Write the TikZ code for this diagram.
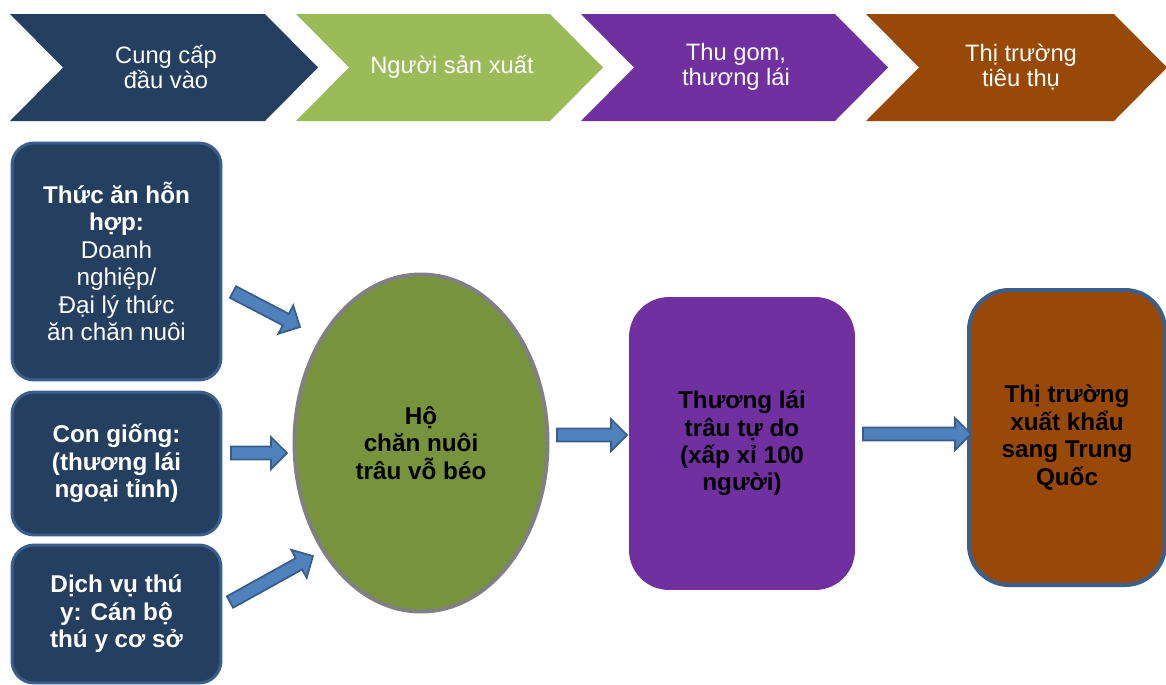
\documentclass[tikz,border=0pt]{standalone}
\usepackage{fontspec}
\setmainfont{Liberation Sans}
\usetikzlibrary{shapes.geometric,calc}
\definecolor{C0}{HTML}{243F60}
\definecolor{C1}{HTML}{9BBB59}
\definecolor{C2}{HTML}{7030A0}
\definecolor{C3}{HTML}{984807}
\definecolor{G0}{HTML}{77933C}
\definecolor{G1}{HTML}{808080}
\definecolor{B0}{HTML}{3B5F8C}
\definecolor{A0}{HTML}{4F81BD}
\definecolor{A1}{HTML}{385D8A}
\tikzset{
  head/.style={text=white, align=center, font=\fontsize{13.5}{14.5}\selectfont},
  inbox/.style={draw=B0, line width=1.7pt, fill=C0, rounded corners=0.44cm, minimum width=4.18cm, text=white, align=center, font=\fontsize{13.8}{15.6}\selectfont\bfseries},
  bigtext/.style={align=center, font=\fontsize{13.8}{15.6}\selectfont\bfseries},
  flow/.style={draw=A1, fill=A0, line width=1pt, line join=miter},
}
% block arrow between two named coordinates
\newcommand{\flowarrow}[2]{%
  \path[flow] let \p1=(#1), \p2=(#2), \n1={atan2(\y2-\y1,\x2-\x1)}, \n2={veclen(\x2-\x1,\y2-\y1)} in
    [shift={(\p1)}, rotate=\n1]
    (0pt,-3.7pt) -- ({\n2-9.1pt},-3.7pt) -- ({\n2-9.1pt},-9.1pt) -- ({\n2+0pt},0pt)
    -- ({\n2-9.1pt},9.1pt) -- ({\n2-9.1pt},3.7pt) -- (0pt,3.7pt) -- cycle;}

\begin{document}
\begin{tikzpicture}[x=0.02cm, y=-0.02cm]
\useasboundingbox (0,0) rectangle (1166,684);
% stage chevrons
\fill[C0] (10,14) -- (265,14) -- (318,67.5) -- (265,121) -- (10,121) -- (63,67.5) -- cycle;
\fill[C1] (296,14) -- (550,14) -- (603,67.5) -- (550,121) -- (296,121) -- (349,67.5) -- cycle;
\fill[C2] (581,14) -- (835,14) -- (888,67.5) -- (835,121) -- (581,121) -- (634,67.5) -- cycle;
\fill[C3] (866,14) -- (1114,14) -- (1167,67.5) -- (1114,121) -- (866,121) -- (919,67.5) -- cycle;
\node[head] (h1) at (166,67) {Cung cấp\\đầu vào};
\node[head] (h2) at (452,67) {Người sản xuất};
\node[head] (h3) at (736,67) {Thu gom,\\thương lái};
\node[head] (h4) at (1021,67) {Thị trường\\tiêu thụ};
% chain
\node[inbox, minimum height=4.74cm, font=\fontsize{13.8}{15.6}\selectfont] (feed) at (116.5,261.5) {\textbf{Thức ăn hỗn}\\\textbf{hợp:}\\Doanh\\nghiệp/\\Đại lý thức\\ăn chăn nuôi};
\node[inbox, minimum height=2.86cm] (breed) at (116.5,463.5) {Con giống:\\(thương lái\\ngoại tỉnh)};
\node[inbox, minimum height=2.76cm] (vet) at (116.5,614) {Dịch vụ thú\\y: Cán bộ\\thú y cơ sở};
\node[bigtext, ellipse, draw=G1, line width=2.3pt, fill=G0, minimum width=5.06cm, minimum height=6.74cm] (farm) at (421,443) {Hộ\\chăn nuôi\\trâu vỗ béo};
\node[bigtext, fill=C2, rounded corners=0.8cm, minimum width=4.52cm, minimum height=5.86cm] (trader) at (742,443.5) {Thương lái\\trâu tự do\\(xấp xỉ 100\\người)};
\node[bigtext, draw=B0, line width=2.3pt, fill=C3, rounded corners=0.8cm, minimum width=3.92cm, minimum height=5.9cm] (market) at (1067,437.5) {Thị trường\\xuất khẩu\\sang Trung\\Quốc};
\coordinate (a1s) at (233,292);
\coordinate (a1e) at (300,327);
\coordinate (a2s) at (231,453);
\coordinate (a2e) at (287,453);
\coordinate (a3s) at (230,602);
\coordinate (a3e) at (313,556);
\coordinate (a4s) at (557,435);
\coordinate (a4e) at (627,435);
\coordinate (a5s) at (863,434);
\coordinate (a5e) at (971,434);
\flowarrow{a1s}{a1e}
\flowarrow{a2s}{a2e}
\flowarrow{a3s}{a3e}
\flowarrow{a4s}{a4e}
\flowarrow{a5s}{a5e}
\end{tikzpicture}
\end{document}
